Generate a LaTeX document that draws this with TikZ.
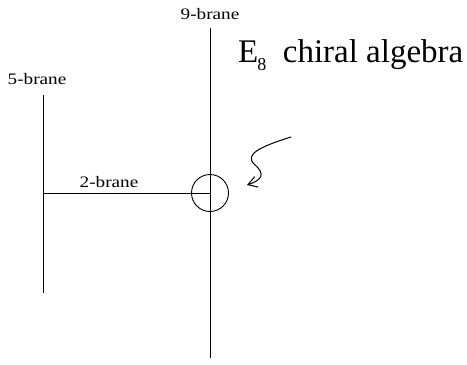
\documentclass[tikz,border=0pt]{standalone}
\usepackage{fontspec}
\setmainfont{Liberation Serif}
\usetikzlibrary{arrows.meta, positioning}

\begin{document}
\begin{tikzpicture}[
    x=1pt, y=-1pt,
    brane/.style={draw, line width=0.9pt},
    label/.style={inner sep=0pt, xscale=1.2, font=\fontsize{16}{18}\selectfont},
    arrow/.style={-{Straight Barb[length=9pt, width=11pt]}, line width=1pt}
]
\useasboundingbox (0,0) rectangle (467,365);

% brane end points
\coordinate (n9top) at (210,28);
\coordinate (n9bot) at (210,358);
\coordinate (n5top) at (43,95);
\coordinate (n5bot) at (43,293);

% branes
\draw[brane] (n9top) -- (n9bot);
\draw[brane] (n5top) -- (n5bot);
\node[circle, draw, line width=0.9pt, minimum size=37pt, inner sep=0pt] (ring) at (210,193) {};
\draw[brane] (n5top |- ring.center) -- (ring.center);

% labels
\node[label, anchor=base] (l9) at (210,19) {9-brane};
\node[label, anchor=base] (l5) at (37,84) {5-brane};
\node[label, anchor=base] (l2) at (109,187) {2-brane};
\node[inner sep=0pt, anchor=base west, font=\fontsize{33}{36}\selectfont] (alg) at (238,62)
    {E\kern-1pt\raisebox{-8pt}{\fontsize{18}{20}\selectfont 8}\ \ chiral algebra};

% squiggle pointing at the ring
\coordinate (sq) at (291,137);
\coordinate (tip) at (247,185);
\draw[arrow] (sq) .. controls (262,146) and (244,154) .. (254,164)
    .. controls (266,174) and (262,180) .. (tip);

\end{tikzpicture}
\end{document}
